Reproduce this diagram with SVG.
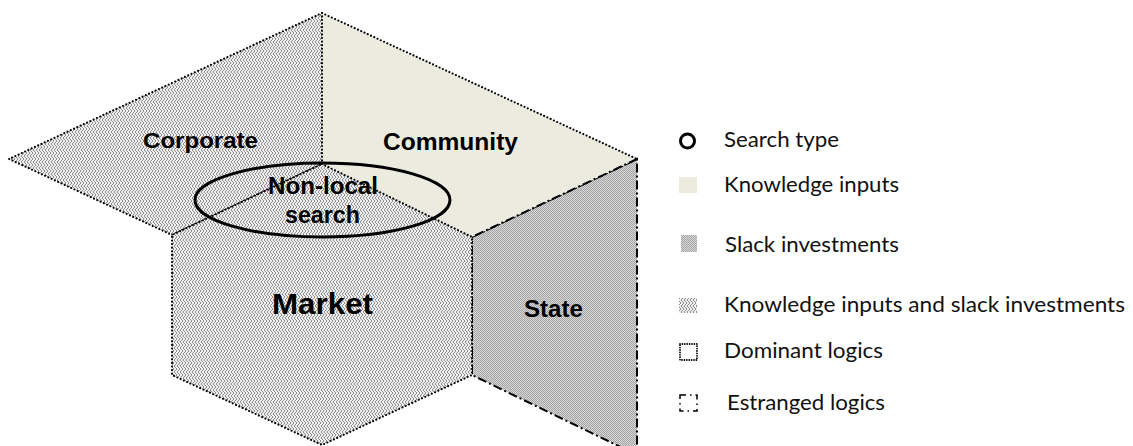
<svg xmlns="http://www.w3.org/2000/svg" width="1133" height="446" viewBox="0 0 1133 446">
  <defs>
    <!-- woven texture: knowledge inputs and slack investments -->
    <pattern id="weave" width="6" height="6" patternUnits="userSpaceOnUse">
      <rect width="6" height="6" fill="#eeeeee"/>
      <path d="M0,0 L3,3 L0,6 M3,0 L6,3 L3,6" stroke="#8e8e8e" stroke-width="1" fill="none"/>
    </pattern>
    <!-- fine checker: slack investments -->
    <pattern id="dense" width="2" height="2" patternUnits="userSpaceOnUse">
      <rect width="2" height="2" fill="#d8d8d8"/>
      <rect width="1" height="1" fill="#a4a4a4"/>
      <rect x="1" y="1" width="1" height="1" fill="#a4a4a4"/>
    </pattern>
    <style>
      .dominant { stroke: #000; stroke-width: 2.2; stroke-dasharray: 0 3.6; stroke-linecap: round; fill: none; }
      .estranged { stroke: #000; stroke-width: 2; stroke-dasharray: 9 3 2 3; fill: none; }
      .knowledge { fill: #ecebe0; }
      .both { fill: url(#weave); }
      .slack { fill: url(#dense); }
      .label { font-family: "Liberation Sans", Arial, sans-serif; font-weight: bold; fill: #000; }
      .legend { font-family: Lato, "Liberation Sans", sans-serif; font-size: 22px; fill: #111; }
    </style>
  </defs>

  <rect width="1133" height="446" fill="#ffffff"/>

  <!-- State (estranged logic, slack investments) -->
  <g id="state">
    <polygon class="slack" points="472,237 637,159 637,455 472,375"/>
    <polygon class="estranged" points="472,237 637,159 637,455 472,375"/>
    <text class="label" x="524" y="317" font-size="23" textLength="59" lengthAdjust="spacingAndGlyphs">State</text>
  </g>

  <!-- Community (knowledge inputs) -->
  <g id="community">
    <polygon class="knowledge" points="322,13 637,159 472,237 322,164"/>
    <path class="dominant" d="M322,13 L637,159"/>
    <path class="estranged" d="M637,159 L472,237"/>
    <text class="label" x="383" y="150" font-size="23" textLength="135" lengthAdjust="spacingAndGlyphs">Community</text>
  </g>

  <!-- Corporate (dominant logic) -->
  <g id="corporate">
    <polygon class="both" points="322,13 9,159 172,235 322,164"/>
    <polygon class="dominant" points="322,13 9,159 172,235 322,164"/>
    <text class="label" x="143" y="148" font-size="22" textLength="115" lengthAdjust="spacingAndGlyphs">Corporate</text>
  </g>

  <!-- Market (dominant logic) -->
  <g id="market">
    <polygon class="both" points="322,164 472,237 472,375 322,445 172,375 172,235"/>
    <polygon class="dominant" points="322,164 472,237 472,375 322,445 172,375 172,235"/>
    <text class="label" x="272" y="314" font-size="29" textLength="101" lengthAdjust="spacingAndGlyphs">Market</text>
  </g>

  <!-- Search type -->
  <g id="non-local-search">
    <ellipse cx="322.5" cy="200" rx="127.5" ry="37" fill="none" stroke="#000" stroke-width="3"/>
    <text class="label" x="268" y="194" font-size="23" textLength="110" lengthAdjust="spacingAndGlyphs">Non-local</text>
    <text class="label" x="285" y="223" font-size="23" textLength="75" lengthAdjust="spacingAndGlyphs">search</text>
  </g>

  <!-- connectors: the faces share their borders, so no separate links -->
  <g id="connectors"></g>

  <!-- Legend -->
  <g id="legend">
    <circle cx="687.5" cy="141" r="7" fill="none" stroke="#000" stroke-width="3"/>
    <text class="legend" x="724" y="147" textLength="115" lengthAdjust="spacingAndGlyphs">Search type</text>

    <rect class="knowledge" x="679" y="177" width="18" height="16"/>
    <text class="legend" x="724" y="192" textLength="175" lengthAdjust="spacingAndGlyphs">Knowledge inputs</text>

    <rect class="slack" x="681" y="235" width="16" height="17"/>
    <text class="legend" x="725" y="252" textLength="174" lengthAdjust="spacingAndGlyphs">Slack investments</text>

    <rect class="both" x="679" y="298" width="18" height="15"/>
    <text class="legend" x="724" y="312" textLength="401" lengthAdjust="spacingAndGlyphs">Knowledge inputs and slack investments</text>

    <rect x="680" y="344" width="17" height="16" fill="none" stroke="#000" stroke-width="1.8" stroke-dasharray="0 2.4" stroke-linecap="round"/>
    <text class="legend" x="724" y="358" textLength="159" lengthAdjust="spacingAndGlyphs">Dominant logics</text>

    <rect x="680" y="395" width="17" height="16" fill="none" stroke="#000" stroke-width="1.5" stroke-dasharray="6 4 1.5 4"/>
    <text class="legend" x="727" y="410" textLength="158" lengthAdjust="spacingAndGlyphs">Estranged logics</text>
  </g>
</svg>
